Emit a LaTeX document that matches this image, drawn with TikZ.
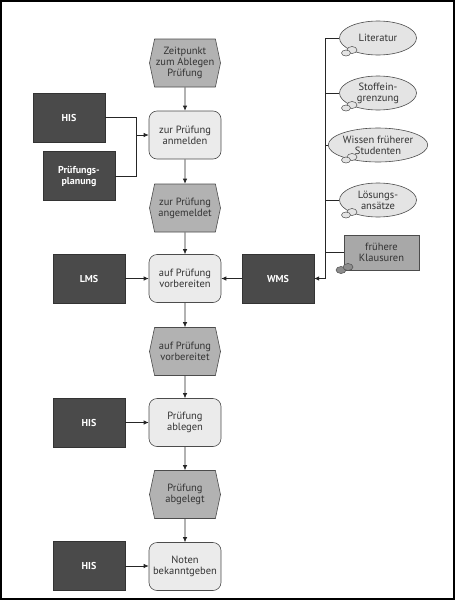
\documentclass[tikz,border=0pt]{standalone}
\usepackage{fontspec}
\setmainfont{PT Sans}
\usetikzlibrary{shapes.geometric,shapes.symbols,arrows.meta}
\definecolor{evgray}{HTML}{B2B2B2}
\definecolor{fnfill}{HTML}{EBEBEB}
\definecolor{sysgray}{HTML}{4A4A4A}
\definecolor{bubfill}{HTML}{E4E4E4}
\definecolor{klfill}{HTML}{A8A8A8}
\definecolor{txt}{HTML}{333333}
\tikzset{
  x=1pt, y=-1pt,
  every node/.style={font=\fontsize{10.5}{11}\selectfont, text=txt, align=center, inner sep=0pt},
  conn/.style={draw=black!85, line width=0.7pt},
  arr/.style={conn, -{Latex[length=5pt,width=4.5pt]}},
  event/.style={signal, signal to=east and west, signal pointer angle=156, draw=black!70, fill=evgray, line width=0.6pt, minimum width=71pt, minimum height=48pt},
  func/.style={rectangle, rounded corners=8pt, draw=black!70, fill=fnfill, line width=0.6pt, minimum width=72pt, minimum height=48pt},
  sys/.style={rectangle, draw=black!80, fill=sysgray, minimum width=72pt, minimum height=49pt, text=white, font=\fontsize{10}{11}\selectfont\bfseries},
  bubble/.style={ellipse, draw=black!70, fill=bubfill, line width=0.6pt, minimum width=77pt, minimum height=34pt, inner sep=0pt},
  tail/.style={draw=black!70, fill=bubfill, line width=0.5pt},
  ktail/.style={draw=black!70, fill=black!45, line width=0.5pt},
  klbox/.style={rectangle, draw=black!70, fill=klfill, line width=0.6pt, minimum width=75pt, minimum height=35pt},
}
\begin{document}
\begin{tikzpicture}
\useasboundingbox (0,0) rectangle (455,600);
\draw[line width=2pt] (1,1) rectangle (454,599);

% main chain
\node[event] (ev1) at (185,63) {Zeitpunkt\\zum Ablegen\\Prüfung};
\node[func] (f1) at (185,135) {zur Prüfung\\anmelden};
\node[event] (ev2) at (185,208) {zur Prüfung\\angemeldet};
\node[func] (f2) at (185,278.5) {auf Prüfung\\vorbereiten};
\node[event] (ev3) at (185,351.5) {auf Prüfung\\vorbereitet};
\node[func] (f3) at (185,422.5) {Prüfung\\ablegen};
\node[event] (ev4) at (185,494.5) {Prüfung\\abgelegt};
\node[func] (f4) at (185,566.5) {Noten\\bekanntgeben};

% systems
\node[sys] (his1) at (69,117.5) {HIS};
\node[sys] (pp) at (79,176) {Prüfungs-\\planung};
\node[sys] (lms) at (89,278.5) {LMS};
\node[sys] (wms) at (278,278.5) {WMS};
\node[sys] (his2) at (89,422.5) {HIS};
\node[sys] (his3) at (89,566) {HIS};

% knowledge
\node[bubble] (b1) at (378,38) {Literatur};
\node[bubble] (b2) at (378,93) {Stoffein-\\grenzung};
\node[bubble] (b3) at (378,145) {Wissen früherer\\Studenten};
\node[bubble] (b4) at (378,200) {Lösungs-\\ansätze};
\node[klbox] (kl) at (381.5,252.5) {frühere\\Klausuren};
\filldraw[ktail] (341,270) ellipse (5 and 3.5);
\filldraw[ktail] (348,267) ellipse (5 and 3.5);
\foreach \yy in {50,105,157,212} {\filldraw[tail] (352,\yy) ellipse (5 and 3.5);}
\foreach \yy in {53,108,160,215} {\filldraw[tail] (346,\yy) ellipse (4.5 and 3);}

% main flow connectors
\draw[arr] (ev1) -- (f1);
\draw[arr] (f1) -- (ev2);
\draw[arr] (ev2) -- (f2);
\draw[arr] (f2) -- (ev3);
\draw[arr] (ev3) -- (f3);
\draw[arr] (f3) -- (ev4);
\draw[arr] (ev4) -- (f4);

% system connectors
\coordinate (j) at (136,135);
\draw[conn] (his1.east) -| (j);
\draw[conn] (pp.east) -| (j);
\draw[arr] (j) -- (f1.west);
\draw[arr] (lms) -- (f2);
\draw[arr] (wms) -- (f2);
\draw[arr] (his2) -- (f3);
\draw[arr] (his3.east) -- (his3.east -| f4.west);

% knowledge connectors
\coordinate (corner) at (325,278.5);
\draw[arr] (b1.west) -- (b1.west -| corner) -- (corner) -- (wms.east);
\draw[conn] (b2.west) -- (b2.west -| corner);
\draw[conn] (b3.west) -- (b3.west -| corner);
\draw[conn] (b4.west) -- (b4.west -| corner);
\draw[conn] (kl.west) -- (kl.west -| corner);
\end{tikzpicture}
\end{document}
